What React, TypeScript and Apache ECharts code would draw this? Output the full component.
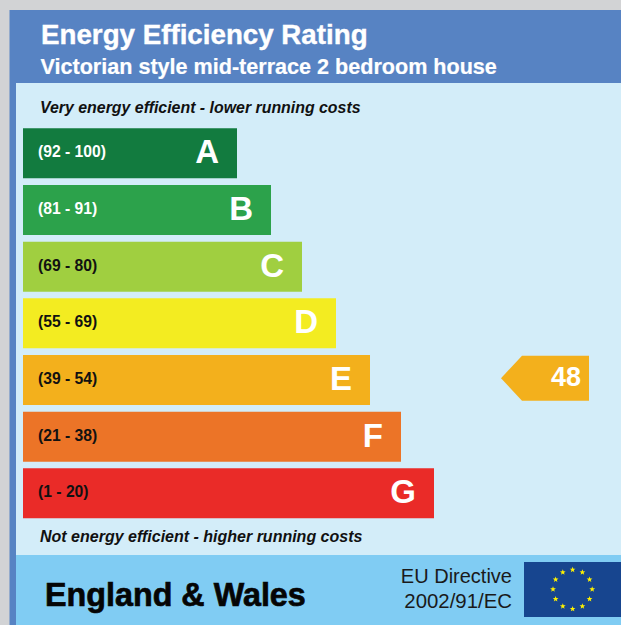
import React, { useEffect, useRef } from "react";
import * as echarts from "echarts";

const categories = ["A", "B", "C", "D", "E", "F", "G"];
const ranges = ["(92 - 100)", "(81 - 91)", "(69 - 80)", "(55 - 69)", "(39 - 54)", "(21 - 38)", "(1 - 20)"];
const barLengths = [214, 248, 279, 313, 347, 378, 411];
const barColors = ["#127b3f", "#2ca24b", "#a0cf40", "#f3ec21", "#f3b01c", "#ec7427", "#ea2b28"];
const rangeColors = ["#ffffff", "#ffffff", "#111111", "#111111", "#111111", "#111111", "#111111"];
const ratingCategory = "E";
const ratingValue = 48;
const arrowTip = 478;
const arrowEnd = 566;
const titleText = "Energy Efficiency Rating";
const subtitleText = "Victorian style mid-terrace 2 bedroom house";
const topNote = "Very energy efficient - lower running costs";
const bottomNote = "Not energy efficient - higher running costs";
const regionText = "England & Wales";
const directiveLines = ["EU Directive", "2002/91/EC"];
const FONT = '"Liberation Sans", Arial, sans-serif';

function starPoints(cx: number, cy: number, r: number) {
  const pts: number[][] = [];
  for (let i = 0; i < 10; i++) {
    const a = -Math.PI / 2 + (i * Math.PI) / 5;
    const rr = i % 2 === 0 ? r : r * 0.42;
    pts.push([cx + rr * Math.cos(a), cy + rr * Math.sin(a)]);
  }
  return pts;
}

const rect = (x: number, y: number, width: number, height: number, fill: string) => ({
  type: "rect",
  silent: true,
  shape: { x, y, width, height },
  style: { fill },
});
const text = (
  x: number,
  y: number,
  t: string,
  font: string,
  fill: string,
  align = "left",
  scaleX = 1,
  strokeWidth = 0
) => ({
  type: "text",
  silent: true,
  x,
  y,
  scaleX,
  style: {
    text: t,
    font,
    fill,
    textAlign: align,
    textVerticalAlign: "middle",
    ...(strokeWidth ? { stroke: fill, lineWidth: strokeWidth } : {}),
  },
});

export default function App() {
  const ref = useRef<HTMLDivElement>(null);
  useEffect(() => {
    const chart = echarts.init(ref.current!, null, { renderer: "svg" });
    const stars = Array.from({ length: 12 }, (_, i) => {
      const a = (i * Math.PI) / 6;
      return {
        type: "polygon",
        silent: true,
        shape: { points: starPoints(572.6 + 19.6 * Math.sin(a), 589.3 - 19.6 * Math.cos(a), 3) },
        style: { fill: "#fff200" },
      };
    });
    chart.setOption({
      animation: false,
      backgroundColor: "#d2d3d5",
      graphic: {
        elements: [
          rect(9.5, 10, 611.5, 615, "#5783c3"),
          rect(16, 83, 605, 473, "#d3edf9"),
          rect(16, 555, 605, 70, "#80ccf3"),
          text(41, 34, titleText, `bold 28.5px ${FONT}`, "#ffffff", "left", 0.973, 0.4),
          text(40.5, 66.5, subtitleText, `bold 21.7px ${FONT}`, "#ffffff", "left", 0.995, 0.2),
          text(40, 107.5, topNote, `italic bold 15.9px ${FONT}`, "#111111"),
          text(40, 536.5, bottomNote, `italic bold 16px ${FONT}`, "#111111"),
          text(45, 594.5, regionText, `bold 34px ${FONT}`, "#050505", "left", 0.95, 0.7),
          text(512, 576, directiveLines[0], `20px ${FONT}`, "#1a1a1a", "right"),
          text(512, 601, directiveLines[1], `20.4px ${FONT}`, "#1a1a1a", "right"),
          rect(524, 562, 97, 55, "#17458f"),
          ...stars,
        ],
      },
      grid: { left: 23, top: 125, width: 598, height: 396.67, containLabel: false },
      xAxis: { type: "value", min: 0, max: 598, show: false },
      yAxis: { type: "category", data: categories, inverse: true, show: false },
      series: [
        {
          type: "bar",
          barWidth: 50,
          barGap: "-100%",
          silent: true,
          data: barLengths.map((v, i) => ({
            value: v,
            itemStyle: { color: barColors[i] },
            label: { color: rangeColors[i] },
          })),
          label: {
            show: true,
            position: "insideLeft",
            distance: 15,
            offset: [0, -1.5],
            fontFamily: FONT,
            fontWeight: "bold",
            fontSize: 15.7,
            formatter: (p: any) => ranges[p.dataIndex],
          },
        },
        {
          type: "bar",
          barWidth: 50,
          barGap: "-100%",
          silent: true,
          itemStyle: { color: "transparent" },
          data: barLengths,
          label: {
            show: true,
            position: "insideRight",
            distance: 18,
            offset: [0, -1.5],
            fontFamily: FONT,
            fontWeight: "bold",
            fontSize: 33,
            color: "#ffffff",
            formatter: (p: any) => categories[p.dataIndex],
          },
        },
        {
          type: "custom",
          silent: true,
          data: [[arrowTip, ratingCategory, ratingValue, arrowEnd]],
          encode: { x: 0, y: 1 },
          renderItem: (_: any, api: any) => {
            const tip = api.coord([api.value(0), ratingCategory]);
            const end = api.coord([api.value(3), ratingCategory]);
            const h = 22.5;
            const cy = tip[1] - 1.8;
            return {
              type: "group",
              children: [
                {
                  type: "polygon",
                  shape: {
                    points: [
                      [tip[0], cy],
                      [tip[0] + 21, cy - h],
                      [end[0], cy - h],
                      [end[0], cy + h],
                      [tip[0] + 21, cy + h],
                    ],
                  },
                  style: { fill: "#f3b01c" },
                },
                {
                  type: "text",
                  x: end[0] - 8,
                  y: cy - 1,
                  style: {
                    text: String(api.value(2)),
                    font: `bold 27px ${FONT}`,
                    fill: "#ffffff",
                    textAlign: "right",
                    textVerticalAlign: "middle",
                  },
                },
              ],
            };
          },
        },
      ],
    });
    return () => chart.dispose();
  }, []);
  return <div ref={ref} style={{ position: "fixed", left: 0, top: 0, width: 621, height: 625 }} />;
}
